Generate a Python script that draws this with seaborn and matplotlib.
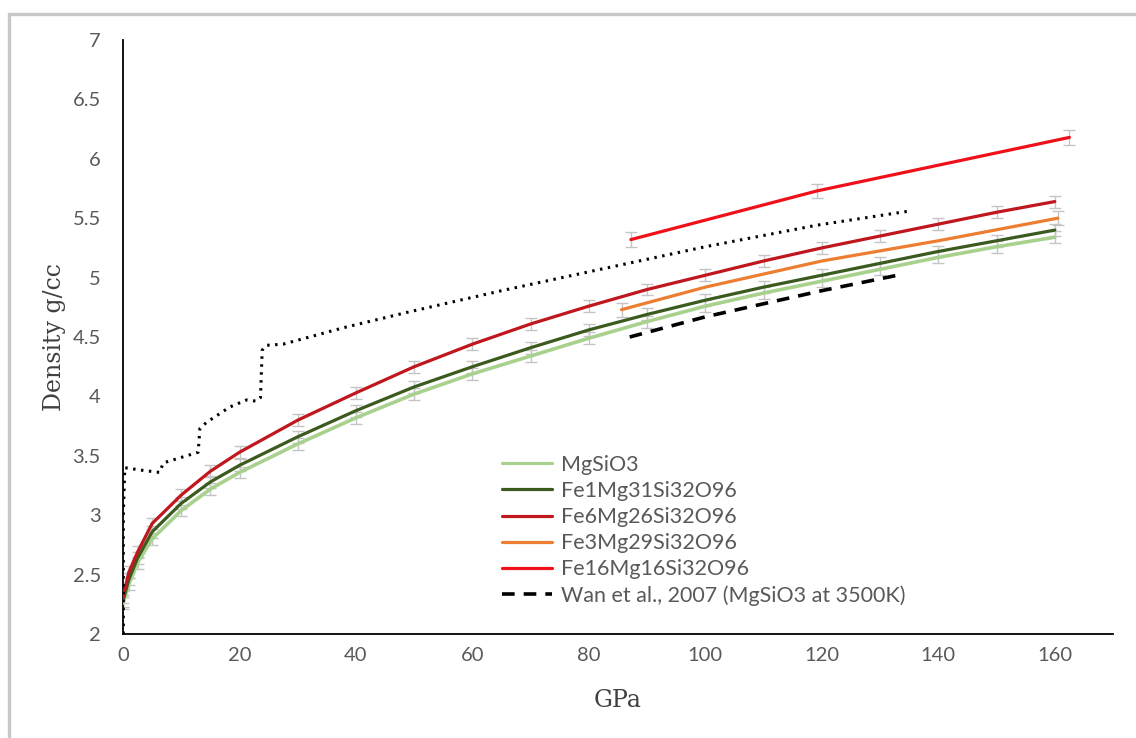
import matplotlib
matplotlib.use("Agg")
import matplotlib.pyplot as plt
import seaborn as sns
from matplotlib.lines import Line2D
from matplotlib.patches import Rectangle

# --- data ---
# pressure grid (GPa) for the three full-range curves
pressure = [0, 1, 2.5, 5, 10, 15, 20, 30, 40, 50, 60, 70, 80, 90, 100, 110, 120, 130, 140, 150, 160]
rho_mgsio3 = [2.26, 2.42, 2.60, 2.80, 3.04, 3.22, 3.36, 3.60, 3.82, 4.02, 4.19, 4.34, 4.49, 4.63,
              4.76, 4.87, 4.97, 5.07, 5.17, 5.26, 5.34]
rho_fe1 = [2.28, 2.46, 2.64, 2.86, 3.10, 3.28, 3.42, 3.66, 3.88, 4.08, 4.25, 4.41, 4.56, 4.69,
           4.81, 4.92, 5.02, 5.12, 5.22, 5.31, 5.40]
rho_fe6 = [2.31, 2.52, 2.69, 2.93, 3.17, 3.37, 3.53, 3.80, 4.03, 4.25, 4.44, 4.61, 4.76, 4.90,
           5.02, 5.14, 5.25, 5.35, 5.45, 5.55, 5.64]
err_main = 0.05

p_fe3 = [85.6, 100, 120, 140, 160.5]
rho_fe3 = [4.73, 4.92, 5.14, 5.31, 5.50]
err_fe3 = 0.06

p_fe16 = [87.2, 119.2, 162.5]
rho_fe16 = [5.32, 5.73, 6.18]
err_fe16 = 0.06

p_wan = [87, 100, 120, 128, 134]
rho_wan = [4.50, 4.67, 4.89, 4.97, 5.03]

# dotted reference curve (not in legend)
p_dot = [0.05, 0.05, 0.3, 3, 6.3, 6.9, 12.9, 13.2, 14.3, 18.3, 21.2, 22.9, 23.6, 23.9, 24.6,
         27.5, 38, 49, 65, 82, 100, 119, 135]
rho_dot = [2.0, 3.0, 3.40, 3.38, 3.36, 3.44, 3.53, 3.73, 3.78, 3.91, 3.97, 3.96, 3.99, 4.39, 4.43,
           4.44, 4.58, 4.71, 4.89, 5.07, 5.26, 5.44, 5.56]

labels = ["MgSiO3", "Fe1Mg31Si32O96", "Fe6Mg26Si32O96", "Fe3Mg29Si32O96",
          "Fe16Mg16Si32O96", "Wan et al., 2007 (MgSiO3 at 3500K)"]
colors = ["#A9D18E", "#3A5A1E", "#C0161D", "#ED7D31", "#F0101A", "black"]

sns.set_style("white")
plt.rcParams["font.family"] = ["Lato", "DejaVu Sans"]

fig = plt.figure(figsize=(11.36, 7.38), dpi=100)
ax = fig.add_axes([0.1083, 0.1409, 0.8715, 0.8049])

# gray error bars first so the lines sit on top
ebar = dict(fmt="none", ecolor="#C4C4C4", elinewidth=1, capsize=4, capthick=1, zorder=1)
for rho in [rho_mgsio3, rho_fe1, rho_fe6]:
    ax.errorbar(pressure, rho, yerr=err_main, **ebar)
ax.errorbar([p_fe3[0], p_fe3[-1]], [rho_fe3[0], rho_fe3[-1]], yerr=err_fe3, **ebar)
ax.errorbar(p_fe16, rho_fe16, yerr=err_fe16, **ebar)

lw = 2.3
sns.lineplot(x=pressure, y=rho_mgsio3, ax=ax, color=colors[0], linewidth=2.6, zorder=3)
sns.lineplot(x=pressure, y=rho_fe1, ax=ax, color=colors[1], linewidth=lw, zorder=3)
sns.lineplot(x=pressure, y=rho_fe6, ax=ax, color=colors[2], linewidth=lw, zorder=3)
sns.lineplot(x=p_fe3, y=rho_fe3, ax=ax, color=colors[3], linewidth=lw, zorder=3)
sns.lineplot(x=p_fe16, y=rho_fe16, ax=ax, color=colors[4], linewidth=lw, zorder=3)
sns.lineplot(x=p_wan, y=rho_wan, ax=ax, color="black", linewidth=2.6,
             linestyle=(0, (3.5, 2.5)), zorder=3)
sns.lineplot(x=p_dot, y=rho_dot, ax=ax, color="black", linewidth=2.2, sort=False,
             estimator=None, linestyle=(0, (0.8, 1.8)), zorder=3)

ax.set_xlim(0, 170)
ax.set_ylim(2, 7)
ax.set_xticks(range(0, 161, 20))
ax.set_yticks([2, 2.5, 3, 3.5, 4, 4.5, 5, 5.5, 6, 6.5, 7])
ax.set_yticklabels(["2", "2.5", "3", "3.5", "4", "4.5", "5", "5.5", "6", "6.5", "7"])
for s in ["top", "right"]:
    ax.spines[s].set_visible(False)
for s in ["left", "bottom"]:
    ax.spines[s].set_color("black")
    ax.spines[s].set_linewidth(1.3)
ax.tick_params(axis="both", direction="in", length=5, width=1.2, color="black",
               labelsize=14.5, labelcolor="#595959")
ax.tick_params(axis="y", pad=16)
ax.tick_params(axis="x", pad=9)

ax.set_xlabel("GPa", family="DejaVu Serif", fontsize=17, color="#404040", labelpad=18)
ax.set_ylabel("Density g/cc", family="DejaVu Serif", fontsize=17, color="#404040", labelpad=5)

handles = [Line2D([], [], color=c, linewidth=lw) for c in colors[:5]]
handles.append(Line2D([], [], color="black", linewidth=2.6, linestyle=(0, (3.5, 2.5))))
leg = fig.legend(handles, labels, loc="upper left", bbox_to_anchor=(502 / 1136, 1 - 455 / 738),
                 frameon=False, fontsize=15.5, handlelength=2.3, handletextpad=0.45,
                 labelspacing=0.28, borderpad=0, borderaxespad=0)
for t in leg.get_texts():
    t.set_color("#595959")

# light gray frame around the chart area, running off the right/bottom edges
fig.patches.append(Rectangle((9 / 1136, -0.1), 1.2, 1.1 - 14 / 738, transform=fig.transFigure,
                             fill=False, edgecolor="#C8C8C8", linewidth=2.4))

fig.savefig("out.png", dpi=100)
